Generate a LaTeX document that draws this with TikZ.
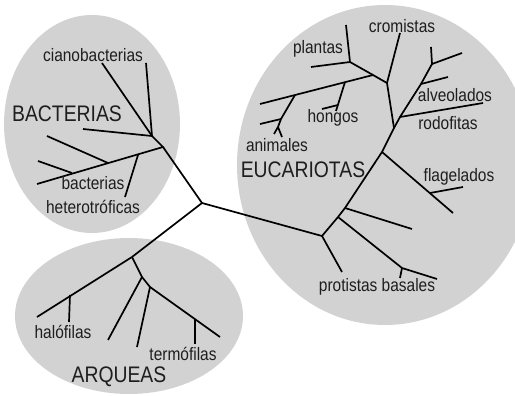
\documentclass[tikz,border=0pt]{standalone}
\usepackage{fontspec}
\setmainfont{Liberation Sans}[FakeStretch=0.86]
\definecolor{cloud}{RGB}{210,210,210}
\definecolor{ink}{RGB}{30,30,30}

\begin{document}
\begin{tikzpicture}[x=1pt,y=-1pt,
  branch/.style={line width=1.7pt},
  lbl/.style={inner sep=0pt,text=ink,font=\fontsize{18}{20}\selectfont},
  group/.style={inner sep=0pt,text=ink,font=\fontsize{22.5}{24}\selectfont}]
  \useasboundingbox (0,0) rectangle (515,396);
  % domains
  \fill[cloud](92,124) ellipse(88 and 109);
  \fill[cloud](385,165) ellipse(148 and 160);
  \fill[cloud](129,316) ellipse(114 and 78);
  % root
  \coordinate (root) at (202,203);
  % bacterias
  \coordinate (b1) at (163,147);
  \coordinate (b2) at (152,136);
  \coordinate (bcia) at (102,63);
  \coordinate (bup) at (146,63);
  \coordinate (bhor) at (83,129);
  \coordinate (b3) at (138,155);
  \coordinate (bhet) at (125,197);
  \coordinate (b4) at (108,163);
  \coordinate (bl1) at (47,136);
  \coordinate (b5) at (72,173);
  \coordinate (bl2) at (38,161);
  \coordinate (bend) at (37,184);
  % arqueas
  \coordinate (a1) at (132,257);
  \coordinate (a0) at (70,295);
  \coordinate (ahal) at (69,322);
  \coordinate (aend) at (37,317);
  \coordinate (a2) at (142,277);
  \coordinate (al1) at (108,340);
  \coordinate (a3) at (150,287);
  \coordinate (al2) at (137,347);
  \coordinate (a4) at (195,319);
  \coordinate (ater) at (195,344);
  \coordinate (aend2) at (220,337);
  % eucariotas
  \coordinate (e1) at (322,236);
  \coordinate (el1) at (342,272);
  \coordinate (e2) at (338,217);
  \coordinate (prot) at (402,268);
  \coordinate (ptick) at (400,278);
  \coordinate (pend) at (437,279);
  \coordinate (e3) at (345,208);
  \coordinate (el2) at (412,229);
  \coordinate (e4) at (382,152);
  \coordinate (fla) at (430,193);
  \coordinate (fbr) at (463,187);
  \coordinate (fend) at (453,213);
  \coordinate (e5) at (394,128);
  \coordinate (g1) at (400,117);
  \coordinate (rend) at (483,103);
  \coordinate (g2) at (421,84);
  \coordinate (gl) at (448,77);
  \coordinate (g3) at (432,64);
  \coordinate (gup) at (431,47);
  \coordinate (gr) at (462,53);
  \coordinate (e6) at (387,83);
  \coordinate (crom) at (400,33);
  \coordinate (p1) at (373,75);
  \coordinate (p2) at (350,62);
  \coordinate (pup) at (346,25);
  \coordinate (phor) at (311,67);
  \coordinate (mend) at (260,104);
  \coordinate (h1) at (345,82);
  \coordinate (hb) at (338,105);
  \coordinate (hend) at (336,111);
  \coordinate (hbr) at (322,109);
  \coordinate (an1) at (295,95);
  \coordinate (an2) at (281,119);
  \coordinate (anl) at (260,124);
  \coordinate (an3) at (278,127);
  \coordinate (anl2) at (274,134);
  \coordinate (anr) at (282,137);
  % tree
  \draw[branch](b1)--(root)--(a1);
  \draw[branch](root)--(e1);
  \draw[branch](bcia)--(b2)--(b1)--(bend);
  \draw[branch](bup)--(b2);
  \draw[branch](bhor)--(b2);
  \draw[branch](b3)--(bhet);
  \draw[branch](b4)--(bl1);
  \draw[branch](b5)--(bl2);
  \draw[branch](a1)--(aend);
  \draw[branch](a0)--(ahal);
  \draw[branch](a1)--(a2)--(al1);
  \draw[branch](a2)--(a3)--(al2);
  \draw[branch](a3)--(aend2);
  \draw[branch](a4)--(ater);
  \draw[branch](e1)--(el1);
  \draw[branch](e1)--(e2)--(e3)--(e4)--(e5)--(e6)--(crom);
  \draw[branch](e2)--(prot)--(pend);
  \draw[branch](prot)--(ptick);
  \draw[branch](e3)--(el2);
  \draw[branch](e4)--(fend);
  \draw[branch](fla)--(fbr);
  \draw[branch](e5)--(g1)--(g2)--(g3)--(gup);
  \draw[branch](g1)--(rend);
  \draw[branch](g2)--(gl);
  \draw[branch](g3)--(gr);
  \draw[branch](e6)--(p1)--(p2)--(pup);
  \draw[branch](p2)--(phor);
  \draw[branch](p1)--(mend);
  \draw[branch](h1)--(hend);
  \draw[branch](hb)--(hbr);
  \draw[branch](an1)--(an2)--(an3)--(anl2);
  \draw[branch](an2)--(anl);
  \draw[branch](an3)--(anr);
  % labels
  \node[lbl] (cia) at (93,55){cianobacterias};
  \node[group] (bac) at (67,114){BACTERIAS};
  \node[lbl] (bact) at (93,183){bacterias};
  \node[lbl] (het) at (93,207){heterotróficas};
  \node[lbl] (hal) at (63,332){halófilas};
  \node[lbl] (ter) at (183,354){termófilas};
  \node[group] (arq) at (119,377){ARQUEAS};
  \node[lbl] (cro) at (402,26){cromistas};
  \node[lbl] (pla) at (318,49){plantas};
  \node[lbl] (alv) at (455,95){alveolados};
  \node[lbl] (rod) at (448,123){rodofitas};
  \node[lbl] (hon) at (333,118){hongos};
  \node[lbl] (ani) at (277,145){animales};
  \node[group] (euc) at (303,170){EUCARIOTAS};
  \node[lbl] (fla) at (459,177){flagelados};
  \node[lbl] (pro) at (377,287){protistas basales};
\end{tikzpicture}
\end{document}
